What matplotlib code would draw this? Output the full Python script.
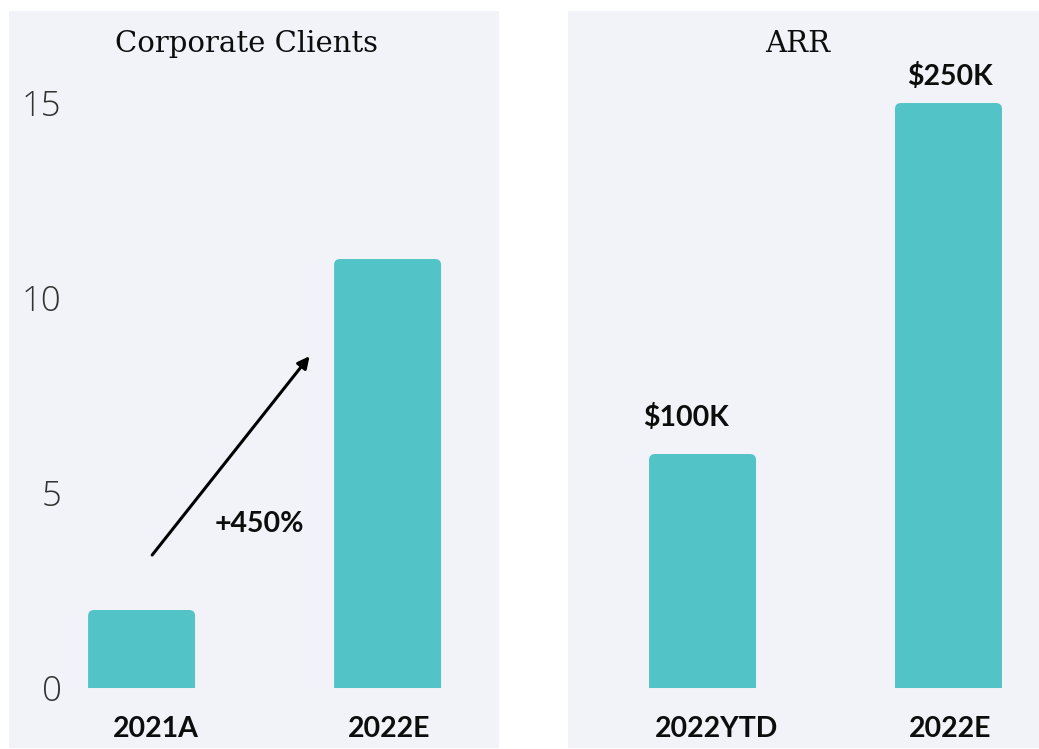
import matplotlib
matplotlib.use("Agg")
import matplotlib.pyplot as plt
from matplotlib.path import Path
from matplotlib.patches import PathPatch

# ---- data ----
client_categories = ["2021A", "2022E"]
client_values = [2, 11]
arr_categories = ["2022YTD", "2022E"]
arr_values = [100, 250]          # $K
arr_labels = ["$100K", "$250K"]
y_ticks = [0, 5, 10, 15]
titles = ["Corporate Clients", "ARR"]

BAR = "#52c3c6"
PANEL = "#f2f3f8"
BOLD_FONT = "Lato"
W, H = 1039, 749
fig = plt.figure(figsize=(W / 100, H / 100), dpi=100)
fig.patch.set_facecolor("white")

ax1 = fig.add_axes([9 / W, 1 / H, 490 / W, 737 / H])
ax2 = fig.add_axes([568 / W, 1 / H, 471 / W, 737 / H])

YL = (-1.538, 17.36)
ax1.set_ylim(*YL)
ax1.set_xlim(-0.539, 1.453)
arr_scale = arr_values[-1] / 15.0
ax2.set_ylim(YL[0] * arr_scale, YL[1] * arr_scale)
ax2.set_xlim(-0.547, 1.368)

for ax in (ax1, ax2):
    ax.set_facecolor(PANEL)
    for s in ax.spines.values():
        s.set_visible(False)


def rounded_bars(ax, cats, vals, width=0.435, r_px=6):
    bars = ax.bar(range(len(cats)), vals, width=width, alpha=0)
    bb = ax.get_window_extent()
    x0l, x1l = ax.get_xlim()
    y0l, y1l = ax.get_ylim()
    rx = r_px * (x1l - x0l) / bb.width
    ry = r_px * (y1l - y0l) / bb.height
    for b in bars:
        x0 = b.get_x()
        x1 = x0 + b.get_width()
        h = b.get_height()
        verts = [(x0, 0), (x0, h - ry), (x0, h), (x0 + rx, h),
                 (x1 - rx, h), (x1, h), (x1, h - ry), (x1, 0), (x0, 0)]
        codes = [Path.MOVETO, Path.LINETO, Path.CURVE3, Path.CURVE3,
                 Path.LINETO, Path.CURVE3, Path.CURVE3, Path.LINETO, Path.CLOSEPOLY]
        ax.add_patch(PathPatch(Path(verts, codes), facecolor=BAR, edgecolor="none"))
    return bars


rounded_bars(ax1, client_categories, client_values)
rounded_bars(ax2, arr_categories, arr_values)

# y ticks (left only)
ax1.set_yticks(y_ticks)
ax1.set_yticklabels([str(t) for t in y_ticks], fontfamily="Open Sans",
                    fontweight="light", fontsize=25, color="#333333")
ax1.tick_params(axis="y", length=0, pad=-38)
ax2.set_yticks([])
for ax in (ax1, ax2):
    ax.set_xticks([])

# category labels (slight horizontal offsets as in the original)
cat_offsets = [(10, 0), (1, 0)]   # points
for ax, cats in ((ax1, client_categories), (ax2, arr_categories)):
    for i, c in enumerate(cats):
        ax.annotate(c, xy=(i, 0), xycoords=("data", "axes fraction"),
                    xytext=(cat_offsets[i][0], 0.0258 * 737 * 0.72),
                    textcoords="offset points", ha="center", va="center",
                    fontfamily=BOLD_FONT, fontweight="bold", fontsize=20.5,
                    color="#0d0d0d")

# titles
ax1.text(0.484, 0.955, titles[0], transform=ax1.transAxes, ha="center", va="center",
         fontfamily="DejaVu Serif", fontsize=21, color="#0d0d0d")
ax2.text(0.488, 0.955, titles[1], transform=ax2.transAxes, ha="center", va="center",
         fontfamily="DejaVu Serif", fontsize=21, color="#0d0d0d")

# value labels on ARR
label_offsets = [(-12, 26), (1, 19)]
for i, (v, lab) in enumerate(zip(arr_values, arr_labels)):
    ax2.annotate(lab, xy=(i, v), xytext=label_offsets[i], textcoords="offset points",
                 ha="center", va="center", fontfamily=BOLD_FONT,
                 fontweight="bold", fontsize=20.5, color="#0d0d0d")

# growth arrow
growth = (client_values[1] - client_values[0]) / client_values[0] * 100
ax1.annotate("", xy=(0.683, 8.51), xytext=(0.043, 3.41),
             arrowprops=dict(arrowstyle="-|>,head_length=0.7,head_width=0.35",
                             color="black", lw=2.2, shrinkA=0, shrinkB=0))
ax1.text(0.478, 4.2, f"+{growth:.0f}%", ha="center", va="center",
         fontfamily=BOLD_FONT, fontweight="bold", fontsize=20.5, color="#0d0d0d")

fig.savefig("out.png", dpi=100, facecolor="white")
